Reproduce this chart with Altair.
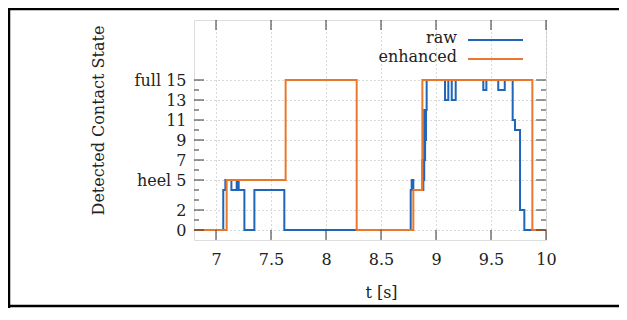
import altair as alt
import pandas as pd

# ---- data ----
raw_t = [6.8, 7.066, 7.085, 7.140, 7.188, 7.194, 7.200, 7.206, 7.258, 7.349, 7.621,
         8.770, 8.779, 8.794, 8.876, 8.881, 8.885, 8.889, 8.893, 8.897, 8.901, 8.905,
         8.909, 8.915, 9.082, 9.112, 9.143, 9.179, 9.430, 9.458, 9.566, 9.625,
         9.697, 9.718, 9.764, 9.803, 10.0]
raw_v = [0, 4, 5, 4, 5, 4, 5, 4, 0, 4, 0,
         4, 5, 4, 7, 4, 7, 5, 12, 7, 12, 9,
         12, 15, 13, 15, 13, 15, 14, 15, 14, 15,
         11, 10, 2, 0, 0]
enh_t = [6.8, 7.097, 7.633, 8.279, 8.794, 8.876, 9.876, 10.0]
enh_v = [0, 5, 15, 0, 4, 15, 0, 0]

x_ticks = [7, 7.5, 8, 8.5, 9, 9.5, 10]
y_major = [0, 2, 5, 7, 9, 11, 13, 15]
y_minor = [1, 3, 4, 6, 8, 10, 12, 14]
series_names = ["raw", "enhanced"]
series_colors = ["#1f66b8", "#ea782c"]

W, H = 352, 220
FONT = "DejaVu Serif"

raw_df = pd.DataFrame({"t": raw_t, "v": raw_v})
enh_df = pd.DataFrame({"t": enh_t, "v": enh_v})
xt_df = pd.DataFrame({"t": x_ticks})
ymaj_df = pd.DataFrame({"v": y_major})
ymin_df = pd.DataFrame({"v": y_minor})

xscale = alt.Scale(domain=[6.8, 10], nice=False, zero=False)
yscale = alt.Scale(domain=[-1, 21], nice=False, zero=False)

xax = alt.Axis(values=x_ticks, format="~g", title="t [s]", domain=False, ticks=False, tickSize=0,
               grid=True, gridColor="#b5b5b5", gridDash=[1, 3], gridWidth=1,
               labelFontSize=16, labelPadding=19, labelBaseline="middle",
               labelColor="#222", titleFontSize=16, titleFontWeight="normal",
               titleColor="#222", titleX=187, titleY=52, titleBaseline="middle",
               labelFlush=False)
yax = alt.Axis(values=y_major, title="Detected Contact State", domain=False, ticks=False,
               tickSize=0, grid=True, gridColor="#b5b5b5", gridDash=[1, 3], gridWidth=1,
               labelFontSize=16, labelPadding=8, labelColor="#222",
               labelExpr="datum.value == 15 ? 'full 15' : datum.value == 5 ? 'heel 5' : datum.label",
               titleFontSize=16, titleFontWeight="normal", titleColor="#222",
               titleAngle=270, titleX=-96, titleY=100, titleBaseline="middle",
               labelFlush=False)

X = alt.X("t:Q", scale=xscale, axis=xax)
Y = alt.Y("v:Q", scale=yscale, axis=yax)

raw_line = alt.Chart(raw_df).mark_line(interpolate="step-after", color=series_colors[0],
                                       strokeWidth=2, clip=True).encode(x=X, y=Y)
enh_line = alt.Chart(enh_df).mark_line(interpolate="step-after", color=series_colors[1],
                                       strokeWidth=2, clip=True).encode(x=X, y=Y)

tick_color = "#333333"
xb = alt.Chart(xt_df).mark_rule(color=tick_color, strokeWidth=1).encode(
    x=X, y=alt.value(H), y2=alt.value(H - 10))
xtp = alt.Chart(xt_df).mark_rule(color=tick_color, strokeWidth=1).encode(
    x=X, y=alt.value(0), y2=alt.value(10))
yl = alt.Chart(ymaj_df).mark_rule(color=tick_color, strokeWidth=1).encode(
    y=Y, x=alt.value(0), x2=alt.value(10))
yr = alt.Chart(ymaj_df).mark_rule(color=tick_color, strokeWidth=1).encode(
    y=Y, x=alt.value(W), x2=alt.value(W - 10))
yml = alt.Chart(ymin_df).mark_rule(color=tick_color, strokeWidth=1).encode(
    y=Y, x=alt.value(0), x2=alt.value(5))
ymr = alt.Chart(ymin_df).mark_rule(color=tick_color, strokeWidth=1).encode(
    y=Y, x=alt.value(W), x2=alt.value(W - 5))

leg_layers = []
for i, (name, col) in enumerate(zip(series_names, series_colors)):
    d = pd.DataFrame({"label": [name]})
    ty = 18 + 19 * i
    leg_layers.append(alt.Chart(d).mark_text(align="right", baseline="middle", fontSize=16,
                                              font=FONT, color="#222").encode(
        text="label:N", x=alt.value(263), y=alt.value(ty)))
    leg_layers.append(alt.Chart(d).mark_rule(color=col, strokeWidth=2).encode(
        x=alt.value(274), x2=alt.value(329), y=alt.value(ty + 2)))

# outer frame (page-level box)
fr = pd.DataFrame({"k": [0]})
frame_top = alt.Chart(fr).mark_rule(color="black", strokeWidth=2.5).encode(
    x=alt.value(-186), x2=alt.value(430), y=alt.value(-11))
frame_left = alt.Chart(fr).mark_rule(color="black", strokeWidth=2.5).encode(
    x=alt.value(-185), y=alt.value(-12), y2=alt.value(288))
frame_bot = alt.Chart(fr).mark_rule(color="black", strokeWidth=2.5).encode(
    x=alt.value(-186), x2=alt.value(430), y=alt.value(286))

chart = alt.layer(
    raw_line, enh_line, xb, xtp, yl, yr, yml, ymr, *leg_layers,
    frame_top, frame_left, frame_bot
).properties(
    width=W, height=H,
    autosize=alt.AutoSizeParams(type="none"),
    padding={"left": 186, "top": 12, "right": 73, "bottom": 68},
).configure_view(
    stroke="#333333", strokeWidth=1.2
).configure(
    font=FONT, background="white"
)

chart.save("out.html", embed_options={"renderer": "svg", "actions": False})
